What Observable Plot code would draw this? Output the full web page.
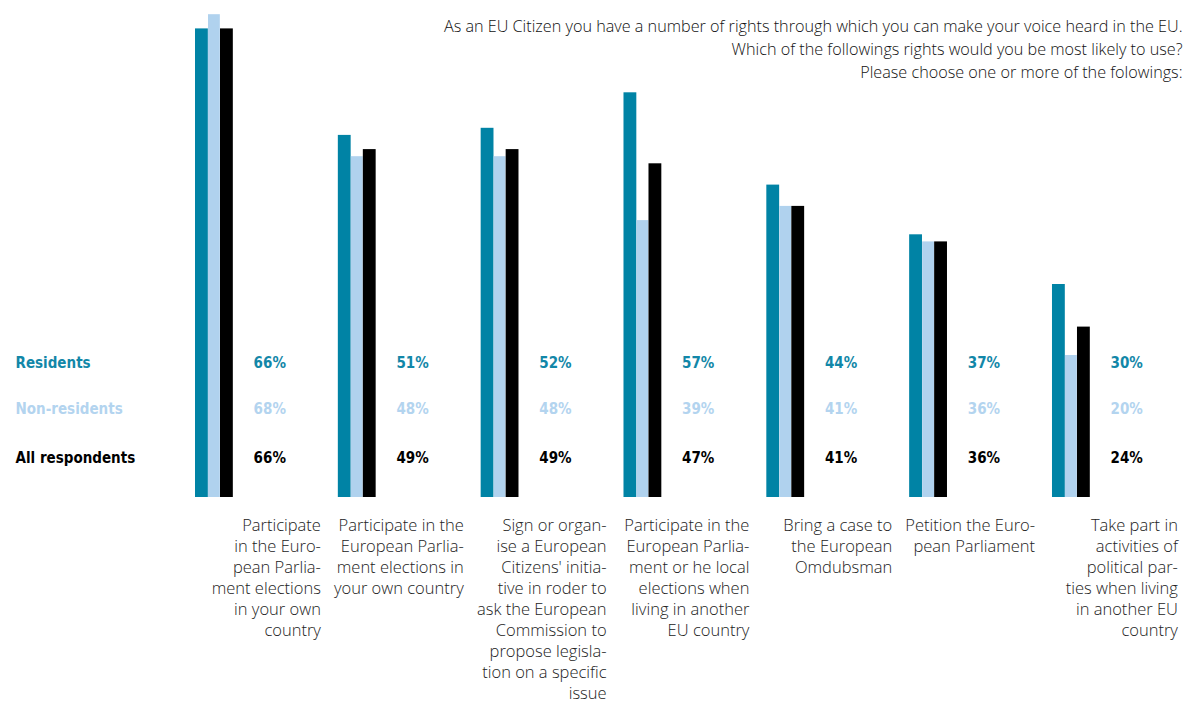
<!DOCTYPE html>
<html>
<head>
<meta charset="utf-8">
<script src="https://cdn.jsdelivr.net/npm/d3@7"></script>
<script src="https://cdn.jsdelivr.net/npm/@observablehq/plot@0.6"></script>
<style>
  html, body { margin: 0; padding: 0; background: #fff; }
  #chart svg { display: block; }
</style>
</head>
<body>
<div id="chart"></div>
<script>
const categories = [
  "Participate\nin the Euro-\npean Parlia-\nment elections\nin your own\ncountry",
  "Participate in the\nEuropean Parlia-\nment elections in\nyour own country",
  "Sign or organ-\nise a European\nCitizens' initia-\ntive in roder to\nask the European\nCommission to\npropose legisla-\ntion on a specific\nissue",
  "Participate in the\nEuropean Parlia-\nment or he local\nelections when\nliving in another\nEU country",
  "Bring a case to\nthe European\nOmdubsman",
  "Petition the Euro-\npean Parliament",
  "Take part in\nactivities of\npolitical par-\nties when living\nin another EU\ncountry"
];
const residents      = [66, 51, 52, 57, 44, 37, 30];
const nonResidents   = [68, 48, 48, 39, 41, 36, 20];
const allRespondents = [66, 49, 49, 47, 41, 36, 24];
const seriesNames = ["Residents", "Non-residents", "All respondents"];
const title = "As an EU Citizen you have a number of rights through which you can make your voice heard in the EU.\nWhich of the followings rights would you be most likely to use?\nPlease choose one or more of the folowings:";

const series = [
  {name: seriesNames[0], values: residents,      fill: "#0083a5", text: "#1287a8", insetLeft: 0,  insetRight: 130, dy: -130},
  {name: seriesNames[1], values: nonResidents,   fill: "#b0d2ee", text: "#b3d4ef", insetLeft: 13, insetRight: 118, dy: -84},
  {name: seriesNames[2], values: allRespondents, fill: "#000000", text: "#000000", insetLeft: 25, insetRight: 105, dy: -35}
];

const boldFont = "'Liberation Sans Narrow', 'DejaVu Sans Condensed', sans-serif";
const lightFont = "'Open Sans', Lato, sans-serif";

const marks = [];
for (const s of series) {
  marks.push(Plot.barY(s.values, {
    x: (d, i) => categories[i], y: d => d, fill: s.fill,
    insetLeft: s.insetLeft, insetRight: s.insetRight
  }));
  marks.push(Plot.text(s.values, {
    x: (d, i) => categories[i], text: d => d + "%", frameAnchor: "bottom",
    dy: s.dy, dx: 19, textAnchor: "end", fill: s.text,
    fontSize: 15, fontWeight: "bold", fontFamily: boldFont
  }));
  marks.push(Plot.text([s.name], {
    text: d => d, frameAnchor: "bottom-left", dx: 15, dy: s.dy,
    textAnchor: "start", fill: s.text,
    fontSize: 15, fontWeight: "bold", fontFamily: boldFont
  }));
}
marks.push(Plot.text(categories, {
  x: d => d, text: d => d, frameAnchor: "bottom", lineAnchor: "top",
  dy: 19, dx: 54, textAnchor: "end", fill: "#222",
  fontSize: 16.5, lineHeight: 21 / 16.5, fontFamily: lightFont, fontWeight: 300
}));
marks.push(Plot.text([title], {
  text: d => d, frameAnchor: "top-right", lineAnchor: "top",
  dy: 15.5, dx: -1, textAnchor: "end", fill: "#111",
  fontSize: 16.2, lineHeight: 23 / 16.2, fontFamily: lightFont, fontWeight: 300
}));

const chart = Plot.plot({
  width: 1183,
  height: 703,
  marginTop: 0,
  marginRight: 0,
  marginBottom: 206,
  marginLeft: 0,
  style: {background: "#fff", overflow: "visible"},
  x: {domain: categories, range: [195, 195 + 7 * 142.83], padding: 0, round: false, axis: null},
  y: {domain: [0, 70], axis: null},
  marks
});
document.getElementById("chart").appendChild(chart);
</script>
</body>
</html>
